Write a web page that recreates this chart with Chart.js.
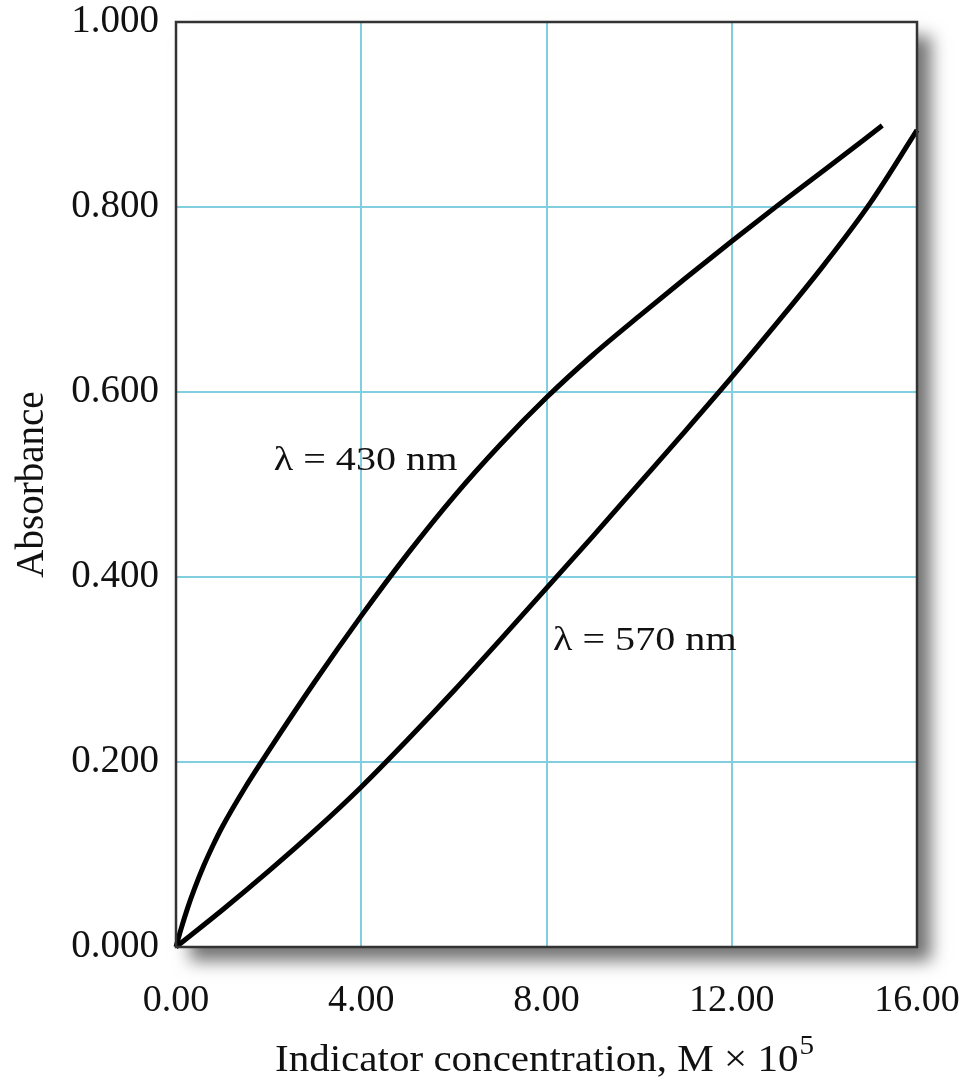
<!DOCTYPE html>
<html>
<head>
<meta charset="utf-8">
<script src="https://cdn.jsdelivr.net/npm/chart.js@4.4.1/dist/chart.umd.min.js"></script>
<style>
  html, body { margin: 0; padding: 0; background: #fff; }
  #wrap { width: 966px; height: 1080px; position: relative; }
</style>
</head>
<body>
<div id="wrap"><canvas id="absChart"></canvas></div>
<script>
// indicator concentration (M x 10^5) vs absorbance
const conc430 = [0, 0.1, 0.25, 0.4, 0.6, 0.8, 1, 1.5, 2, 3, 4, 5, 6, 7, 8, 9, 10, 11, 12, 13, 14, 15.25];
const abs430  = [0, 0.018, 0.042, 0.063, 0.088, 0.11, 0.13, 0.173, 0.212, 0.287, 0.358, 0.425, 0.487, 0.543, 0.594, 0.64, 0.682, 0.723, 0.763, 0.802, 0.84, 0.888];
const conc570 = [0, 1, 2, 3, 4, 5, 6, 7, 8, 9, 10, 11, 12, 13, 14, 15, 16];
const abs570  = [0, 0.04, 0.082, 0.126, 0.173, 0.224, 0.277, 0.332, 0.388, 0.444, 0.501, 0.558, 0.616, 0.676, 0.738, 0.805, 0.883];
const xTicks = [0, 4, 8, 12, 16];
const yTicks = [0, 0.2, 0.4, 0.6, 0.8, 1.0];
const curveLabels = [
  { text: 'λ = 430 nm', x: 2.11, y: 0.516 },
  { text: 'λ = 570 nm', x: 8.14, y: 0.321 }
];

const serif = '"Liberation Serif", "Times New Roman", serif';
const gridCyan = 'rgb(128, 206, 224)';

const toPoints = (xs, ys) => xs.map((x, i) => ({ x: x, y: ys[i] }));

// drop shadow behind the plot box
const shadowPlugin = {
  id: 'boxShadow',
  beforeDraw(chart) {
    const { ctx, chartArea: ca } = chart;
    ctx.save();
    ctx.shadowColor = 'rgba(0,0,0,0.55)';
    ctx.shadowBlur = 16;
    ctx.shadowOffsetX = 14;
    ctx.shadowOffsetY = 14;
    ctx.fillStyle = '#fff';
    ctx.fillRect(ca.left, ca.top, ca.width, ca.height);
    ctx.restore();
  }
};

// text drawn a bit wider, like the typeset figure
function wideText(ctx, text, x, y, sx) {
  ctx.save();
  ctx.translate(x, y);
  ctx.scale(sx, 1);
  ctx.fillText(text, 0, 0);
  ctx.restore();
}

// frame, curve labels and x title with superscript
const decorPlugin = {
  id: 'decor',
  afterDraw(chart) {
    const { ctx, chartArea: ca, scales } = chart;
    ctx.save();
    ctx.strokeStyle = '#333';
    ctx.lineWidth = 2.5;
    ctx.strokeRect(ca.left, ca.top, ca.width, ca.height);

    ctx.fillStyle = '#111';
    ctx.font = '34px ' + serif;
    ctx.textAlign = 'left';
    ctx.textBaseline = 'alphabetic';
    curveLabels.forEach(l => {
      wideText(ctx, l.text, scales.x.getPixelForValue(l.x), scales.y.getPixelForValue(l.y), 1.18);
    });

    const sx = 1.08;
    const main = 'Indicator concentration, M × 10';
    const sup = '5';
    ctx.font = '38px ' + serif;
    const wMain = ctx.measureText(main).width * sx;
    ctx.font = '27px ' + serif;
    const wSup = ctx.measureText(sup).width * sx;
    const cx = 544;
    const x0 = cx - (wMain + wSup) / 2;
    const base = 1071;
    ctx.font = '38px ' + serif;
    wideText(ctx, main, x0, base, sx);
    ctx.font = '27px ' + serif;
    wideText(ctx, sup, x0 + wMain + 1, base - 17, sx);
    ctx.restore();
  }
};

new Chart(document.getElementById('absChart'), {
  type: 'line',
  data: {
    datasets: [
      {
        label: 'λ = 430 nm',
        data: toPoints(conc430, abs430),
        borderColor: '#000',
        borderWidth: 5,
        pointRadius: 0,
        cubicInterpolationMode: 'monotone',
        fill: false,
        clip: 6
      },
      {
        label: 'λ = 570 nm',
        data: toPoints(conc570, abs570),
        borderColor: '#000',
        borderWidth: 5,
        pointRadius: 0,
        cubicInterpolationMode: 'monotone',
        fill: false,
        clip: 6
      }
    ]
  },
  options: {
    responsive: true,
    maintainAspectRatio: false,
    animation: false,
    layout: { padding: { top: 22, right: 49, left: 0, bottom: 0 } },
    plugins: {
      legend: { display: false },
      tooltip: { enabled: false }
    },
    scales: {
      x: {
        type: 'linear',
        min: 0,
        max: 16,
        afterBuildTicks: s => { s.ticks = xTicks.map(v => ({ value: v })); },
        afterFit: s => { s.height = 133; s.paddingLeft = 0; s.paddingRight = 0; },
        border: { display: false },
        grid: { color: gridCyan, lineWidth: 2, drawTicks: false },
        ticks: {
          padding: 31,
          color: '#111',
          font: { family: serif, size: 38 },
          maxRotation: 0,
          callback: v => Number(v).toFixed(2)
        }
      },
      y: {
        type: 'linear',
        min: 0,
        max: 1,
        afterBuildTicks: s => { s.ticks = yTicks.map(v => ({ value: v })); },
        afterFit: s => { s.width = 176; s.paddingTop = 0; s.paddingBottom = 0; },
        border: { display: false },
        grid: { color: gridCyan, lineWidth: 2, drawTicks: false },
        ticks: {
          padding: 17,
          color: '#111',
          font: { family: serif, size: 39 },
          callback: v => Number(v).toFixed(3)
        },
        title: {
          display: true,
          text: 'Absorbance',
          color: '#111',
          font: { family: serif, size: 39 },
          padding: { top: 9, bottom: 0 }
        }
      }
    }
  },
  plugins: [shadowPlugin, decorPlugin]
});
</script>
</body>
</html>
